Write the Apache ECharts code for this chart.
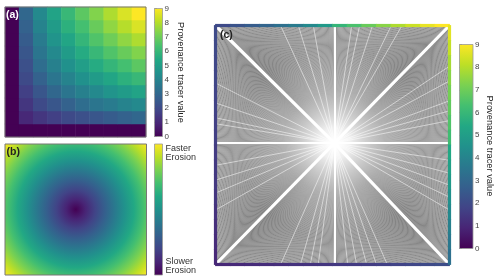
<!DOCTYPE html>
<html><head><meta charset="utf-8">
<script src="https://cdn.jsdelivr.net/npm/echarts@6/dist/echarts.min.js"></script>
<style>html,body{margin:0;padding:0;background:#fff}#c{width:500px;height:280px}</style>
</head><body><div id="c"></div><script>
// ---- data ----
const gridCells = ['0','1','2','3','4','5','6','7','8','9'];
// panel (a): tracer values, rows bottom->top (row 1..9), columns left->right (col 1..9); row 0 and col 0 are 0
const tracerRows = [
  [1.0,1.4,1.7,2.0,2.2,2.4,2.6,2.8,3.0],
  [1.4,2.0,2.4,2.8,3.2,3.5,3.7,4.0,4.2],
  [1.7,2.4,3.0,3.5,3.9,4.2,4.6,4.9,5.2],
  [2.0,2.8,3.5,4.0,4.5,4.9,5.3,5.7,6.0],
  [2.2,3.2,3.9,4.5,5.0,5.5,5.9,6.3,6.7],
  [2.4,3.5,4.2,4.9,5.5,6.0,6.5,6.9,7.3],
  [2.6,3.7,4.6,5.3,5.9,6.5,7.0,7.5,7.9],
  [2.8,4.0,4.9,5.7,6.3,6.9,7.5,8.0,8.5],
  [3.0,4.2,5.2,6.0,6.7,7.3,7.9,8.5,9.0]
];
const outerValue = 0;
const cbTickLabels = ['0','1','2','3','4','5','6','7','8','9'];
const erosionLabels = ['Faster\nErosion', 'Slower\nErosion'];
const cbTitle = 'Provenance tracer value';
// panel (c): tracer value along the border
const topEdge    = [2.0,2.3,2.6,2.9,3.3,3.7,4.2,4.8,5.9,6.4,6.9,7.4,7.9,8.3,8.7,9.0]; // left -> right
const rightEdge  = [8.6,8.2,7.8,7.4,7.1,6.8,6.5,6.2,5.4,5.1,4.8,4.5,4.2,3.9,3.6,3.3]; // top -> bottom
const bottomEdge = [1.0,1.05,1.1,1.15,1.2,1.3,1.35,1.4,1.5,1.55,1.6,1.7,1.8,1.9,2.0,2.1]; // left -> right
const leftEdge   = [2.0,1.95,1.9,1.85,1.8,1.75,1.7,1.65,1.55,1.5,1.45,1.4,1.3,1.2,1.1,1.0]; // top -> bottom
const rayOrigin = [0.508, 0.508];
const raysPerEdge = 200;
const gapTop    = [0.278,0.354,0.418,0.582,0.616,0.671,0.751,0.797];
const gapBottom = [0.278,0.363,0.405,0.439,0.565,0.603,0.646,0.688,0.734];
const gapLeft   = [0.759,0.676,0.614,0.589,0.415,0.353,0.299,0.228];
const gapRight  = [0.830,0.768,0.685,0.643,0.602,0.436,0.382,0.332,0.282,0.228];

// ---- style ----
const viridis = ['#440154','#482475','#414487','#355f8d','#2a788e','#21918c','#22a884','#44bf70','#7ad151','#bddf26','#fde725'];
const font = 'Liberation Sans, Arial, sans-serif';
function vStops(){ return viridis.map((c,i)=>({offset:i/(viridis.length-1), color:c})); }
function vertGrad(){ return {type:'linear', x:0, y:1, x2:0, y2:0, colorStops: vStops()}; }

// ---- build ----
const heat = [];
for (let r = 0; r < gridCells.length; r++)
  for (let c = 0; c < gridCells.length; c++)
    heat.push([c, r, (r === 0 || c === 0) ? outerValue : tracerRows[r-1][c-1]]);

const rays = [];
for (let k = 0; k < raysPerEdge; k++) {
  const t = (k + 0.5) / raysPerEdge;
  rays.push({coords:[rayOrigin,[t,1]]},{coords:[rayOrigin,[t,0]]},{coords:[rayOrigin,[0,t]]},{coords:[rayOrigin,[1,t]]});
}
const gaps = [].concat(
  gapTop.map(x=>({coords:[rayOrigin,[x,1]]})),
  gapBottom.map(x=>({coords:[rayOrigin,[x,0]]})),
  gapLeft.map(y=>({coords:[rayOrigin,[0,y]]})),
  gapRight.map(y=>({coords:[rayOrigin,[1,y]]}))
);
const axisRays = [[rayOrigin[0],1],[rayOrigin[0],0],[0,rayOrigin[1]],[1,rayOrigin[1]]].map(e=>({coords:[rayOrigin,e]}));
const diagRays = [[0,1],[1,1],[0,0],[1,0]].map(e=>({coords:[rayOrigin,e]}));

const gC = {left:215.5, top:25.5, width:234, height:239};
const nE = topEdge.length;
const hw = gC.width / nE + 0.8, vh = gC.height / nE + 0.8, bw = 3.2;
const border = [].concat(
  topEdge.map((v,k)=>({value:[(k+0.5)/nE,1,v], symbolSize:[hw,bw]})),
  bottomEdge.map((v,k)=>({value:[(k+0.5)/nE,0,v], symbolSize:[hw,bw]})),
  leftEdge.map((v,k)=>({value:[0,1-(k+0.5)/nE,v], symbolSize:[bw,vh]})),
  rightEdge.map((v,k)=>({value:[1,1-(k+0.5)/nE,v], symbolSize:[bw,vh]}))
);

const cbAxis = (gi) => ({
  gridIndex: gi, type:'value', min:0, max:9, interval:1, position:'right',
  axisLine:{show:false}, splitLine:{show:false},
  axisTick:{show:true, length:2.5, lineStyle:{color:'#555', width:0.8}},
  axisLabel:{show:true, margin:2, fontSize:8, color:'#444', fontFamily:font, formatter:(v)=>cbTickLabels[Math.round(v)]}
});

const chart = echarts.init(document.getElementById('c'), null, {renderer:'canvas', width:500, height:280});
chart.setOption({
  animation:false,
  backgroundColor:'#fff',
  grid:[
    {left:5, top:7, width:141, height:130},
    gC,
    {left:154.5, top:8.5, width:8, height:128},
    {left:459.5, top:44.5, width:13.5, height:204}
  ],
  xAxis:[
    {gridIndex:0, type:'category', data:gridCells, show:false},
    {gridIndex:1, type:'value', min:0, max:1, show:false},
    {gridIndex:2, type:'value', min:0, max:1, show:false},
    {gridIndex:3, type:'value', min:0, max:1, show:false}
  ],
  yAxis:[
    {gridIndex:0, type:'category', data:gridCells, show:false},
    {gridIndex:1, type:'value', min:0, max:1, show:false},
    cbAxis(2),
    cbAxis(3)
  ],
  visualMap:[{type:'continuous', show:false, min:0, max:9, dimension:2, seriesIndex:[0,5], inRange:{color:viridis}}],
  series:[
    {type:'heatmap', xAxisIndex:0, yAxisIndex:0, data:heat, itemStyle:{borderWidth:0}, emphasis:{disabled:true}, silent:true},
    {type:'lines', coordinateSystem:'cartesian2d', xAxisIndex:1, yAxisIndex:1, data:rays, z:2, silent:true,
      lineStyle:{color:'#3a3a3a', width:0.8, opacity:0.75}},
    {type:'lines', coordinateSystem:'cartesian2d', xAxisIndex:1, yAxisIndex:1, data:gaps, z:3, silent:true,
      lineStyle:{color:'#fff', width:0.7, opacity:0.75}},
    {type:'lines', coordinateSystem:'cartesian2d', xAxisIndex:1, yAxisIndex:1, data:axisRays, z:3, silent:true,
      lineStyle:{color:'#fff', width:2, opacity:1}},
    {type:'lines', coordinateSystem:'cartesian2d', xAxisIndex:1, yAxisIndex:1, data:diagRays, z:3, silent:true,
      lineStyle:{color:'#fff', width:3.2, opacity:1}},
    {type:'scatter', xAxisIndex:1, yAxisIndex:1, data:border, symbol:'rect', z:10, silent:true, itemStyle:{opacity:1}}
  ],
  graphic:[
    {type:'rect', z:20, shape:{x:5, y:7, width:141, height:130}, style:{fill:null, stroke:'#777', lineWidth:1}},
    {type:'rect', z:1, shape:{x:5, y:144, width:141.5, height:131},
      style:{fill:{type:'radial', x:0.5, y:0.5, r:0.734, colorStops:vStops()}, stroke:'#777', lineWidth:1}},
    {type:'rect', z:1, shape:{x:154.5, y:8.5, width:8, height:128}, style:{fill:vertGrad(), stroke:'#999', lineWidth:0.8}},
    {type:'rect', z:1, shape:{x:154.5, y:144, width:8, height:131}, style:{fill:vertGrad(), stroke:'#999', lineWidth:0.8}},
    {type:'rect', z:1, shape:{x:459.5, y:44.5, width:13.5, height:204}, style:{fill:vertGrad(), stroke:'#999', lineWidth:0.8}},
    {type:'rect', z:4, silent:true, shape:{x:gC.left, y:gC.top, width:gC.width, height:gC.height},
      style:{fill:{type:'radial', x:0.5085, y:0.4916, r:0.55, colorStops:[
        {offset:0, color:'rgba(255,255,255,1)'},
        {offset:0.12, color:'rgba(255,255,255,0.92)'},
        {offset:0.4, color:'rgba(255,255,255,0.5)'},
        {offset:0.75, color:'rgba(255,255,255,0.12)'},
        {offset:1, color:'rgba(255,255,255,0)'}]}}},
    {type:'text', z:20, x:181, y:72.5, rotation:-Math.PI/2, style:{text:cbTitle, align:'center', verticalAlign:'middle', fontSize:9.3, fill:'#222', fontFamily:font}},
    {type:'text', z:20, x:490, y:146, rotation:-Math.PI/2, style:{text:cbTitle, align:'center', verticalAlign:'middle', fontSize:9.3, fill:'#222', fontFamily:font}},
    {type:'text', z:20, x:165.5, y:144, style:{text:erosionLabels[0], align:'left', verticalAlign:'top', fontSize:9, lineHeight:9, fill:'#333', fontFamily:font}},
    {type:'text', z:20, x:165.5, y:257, style:{text:erosionLabels[1], align:'left', verticalAlign:'top', fontSize:9, lineHeight:9, fill:'#333', fontFamily:font}},
    {type:'text', z:20, x:6, y:15, style:{text:'(a)', align:'left', verticalAlign:'middle', fontSize:10.5, fontWeight:'bold', fill:'#fff', fontFamily:font}},
    {type:'text', z:20, x:6.5, y:152.5, style:{text:'(b)', align:'left', verticalAlign:'middle', fontSize:10.5, fontWeight:'bold', fill:'#222', fontFamily:font}},
    {type:'text', z:20, x:220, y:35, style:{text:'(c)', align:'left', verticalAlign:'middle', fontSize:10.5, fontWeight:'bold', fill:'#222', fontFamily:font}}
  ]
});
</script></body></html>
